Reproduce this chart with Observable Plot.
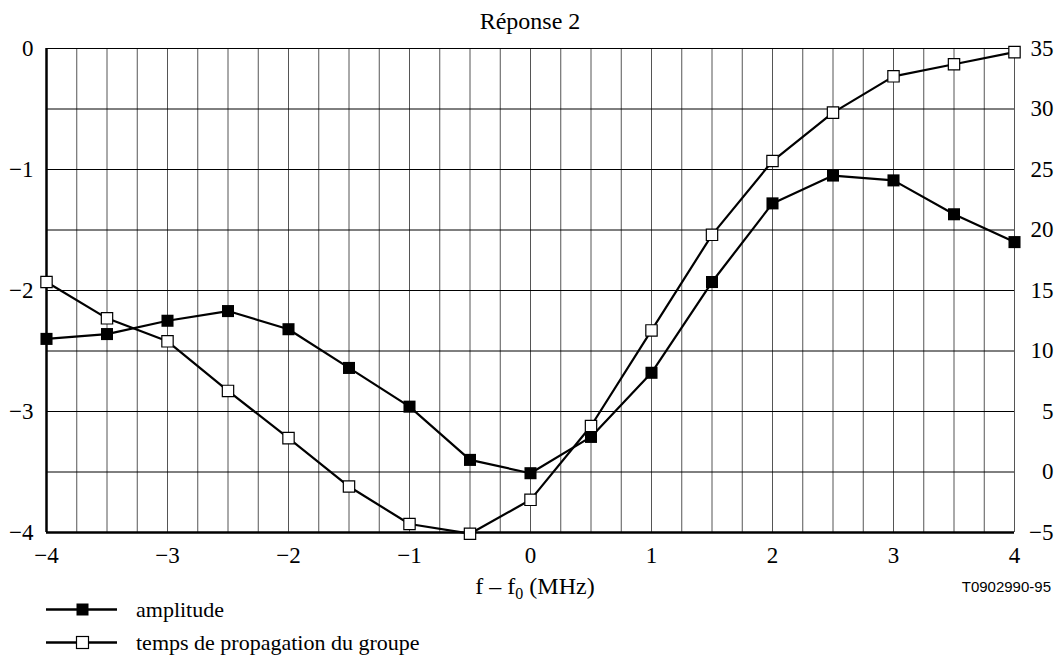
<!DOCTYPE html>
<html>
<head>
<meta charset="utf-8">
<script src="https://cdn.jsdelivr.net/npm/d3@7"></script>
<script src="https://cdn.jsdelivr.net/npm/@observablehq/plot@0.6"></script>
<style>
  html, body { margin: 0; padding: 0; background: white; }
  #wrap { position: relative; width: 1055px; height: 657px; overflow: hidden; font-family: "Liberation Serif", "Times New Roman", serif; }
  #title { position: absolute; top: 0; left: 0; width: 1060px; text-align: center; font-size: 24px; line-height: 42px; color: #000; }
  #chart { position: absolute; top: 40px; left: 0; }
  #legend { position: absolute; top: 593px; left: 0; }
  .row { height: 33px; display: flex; align-items: center; }
  .row svg { display: block; }
  .row span { font-size: 22px; margin-left: 18px; color: #000; }
</style>
</head>
<body>
<div id="wrap">
  <div id="title">Réponse 2</div>
  <div id="chart"></div>
  <div id="legend"></div>
</div>
<script>
const freq = [-4, -3.5, -3, -2.5, -2, -1.5, -1, -0.5, 0, 0.5, 1, 1.5, 2, 2.5, 3, 3.5, 4];
const amplitude = [-2.40, -2.36, -2.25, -2.17, -2.32, -2.64, -2.96, -3.40, -3.51, -3.21, -2.68, -1.93, -1.28, -1.05, -1.09, -1.37, -1.60];
const groupDelay = [15.7, 12.7, 10.8, 6.7, 2.8, -1.2, -4.3, -5.1, -2.3, 3.8, 11.7, 19.6, 25.7, 29.7, 32.7, 33.7, 34.7];
const xTicks = [-4, -3, -2, -1, 0, 1, 2, 3, 4];
const leftTicks = [0, -1, -2, -3, -4];
const rightTicks = [35, 30, 25, 20, 15, 10, 5, 0, -5];
const legendLabels = ["amplitude", "temps de propagation du groupe"];

// map right axis (group delay, -5..35) onto left scale (-4..0)
const toLeft = d => (d - 35) / 10;
const fmt = v => (v < 0 ? "\u2212" : "") + Math.abs(Math.round(v * 100) / 100);

const ampData = freq.map((f, i) => ({f, v: amplitude[i]}));
const delayData = freq.map((f, i) => ({f, v: toLeft(groupDelay[i])}));

const plot = Plot.plot({
  width: 1055,
  height: 560,
  marginLeft: 46,
  marginRight: 41,
  marginTop: 8,
  marginBottom: 68,
  style: {fontFamily: "Liberation Serif, Times New Roman, serif", fontSize: "23px", background: "white", color: "black", overflow: "visible"},
  x: {domain: [-4, 4]},
  y: {domain: [-4, 0]},
  marks: [
    Plot.gridX(d3.range(-4, 4.001, 0.25), {stroke: "#555", strokeOpacity: 1, strokeWidth: 1}),
    Plot.gridY(d3.range(-4, 0.001, 0.5), {stroke: "#000", strokeOpacity: 1, strokeWidth: 1}),
    Plot.ruleX([-4], {stroke: "#000", strokeWidth: 2.5}),
    Plot.ruleY([-4], {stroke: "#000", strokeWidth: 2.5}),
    Plot.axisY({anchor: "left", ticks: leftTicks, tickSize: 0, tickPadding: 13, tickFormat: fmt, label: null}),
    Plot.axisY({anchor: "right", ticks: rightTicks.map(toLeft), tickSize: 0, tickPadding: 39, textAnchor: "end", tickFormat: v => fmt(v * 10 + 35), label: null}),
    Plot.axisX({ticks: xTicks, tickSize: 0, tickPadding: 14, tickFormat: fmt, label: null}),
    Plot.line(ampData, {x: "f", y: "v", stroke: "#000", strokeWidth: 2.2}),
    Plot.line(delayData, {x: "f", y: "v", stroke: "#000", strokeWidth: 2.2}),
    Plot.dot(ampData, {x: "f", y: "v", symbol: "square", r: 6.8, fill: "#000", stroke: "none"}),
    Plot.dot(delayData, {x: "f", y: "v", symbol: "square", r: 6.4, fill: "#fff", stroke: "#000", strokeWidth: 1.2})
  ]
});

const svg = d3.select(plot);
const xs = plot.scale("x");
// x-axis label with subscript
const lab = svg.append("text")
  .attr("x", xs.apply(0) + 5)
  .attr("y", 554)
  .attr("font-family", "Liberation Serif, Times New Roman, serif")
  .attr("font-size", 24)
  .attr("fill", "#000");
lab.append("tspan").text("f \u2013 f");
lab.append("tspan").attr("font-size", 16).attr("dy", 5).text("0");
lab.append("tspan").attr("dy", -5).text(" (MHz)");
// figure code
svg.append("text")
  .attr("x", 1051)
  .attr("y", 552)
  .attr("text-anchor", "end")
  .attr("font-family", "Liberation Sans, Arial, sans-serif")
  .attr("font-size", 15)
  .attr("fill", "#000")
  .text("T0902990-95");

document.getElementById("chart").appendChild(plot);

// legend
const legend = d3.select("#legend");
legendLabels.forEach((label, i) => {
  const row = legend.append("div").attr("class", "row");
  const s = row.append("svg").attr("width", 118).attr("height", 33);
  s.append("line").attr("x1", 46).attr("x2", 117).attr("y1", 16.5).attr("y2", 16.5).attr("stroke", "#000").attr("stroke-width", 2.5);
  s.append("rect").attr("x", 76.5).attr("y", 10.5).attr("width", 12).attr("height", 12)
    .attr("fill", i === 0 ? "#000" : "#fff").attr("stroke", i === 0 ? "none" : "#000").attr("stroke-width", 1.2);
  row.append("span").text(label);
});
</script>
</body>
</html>
